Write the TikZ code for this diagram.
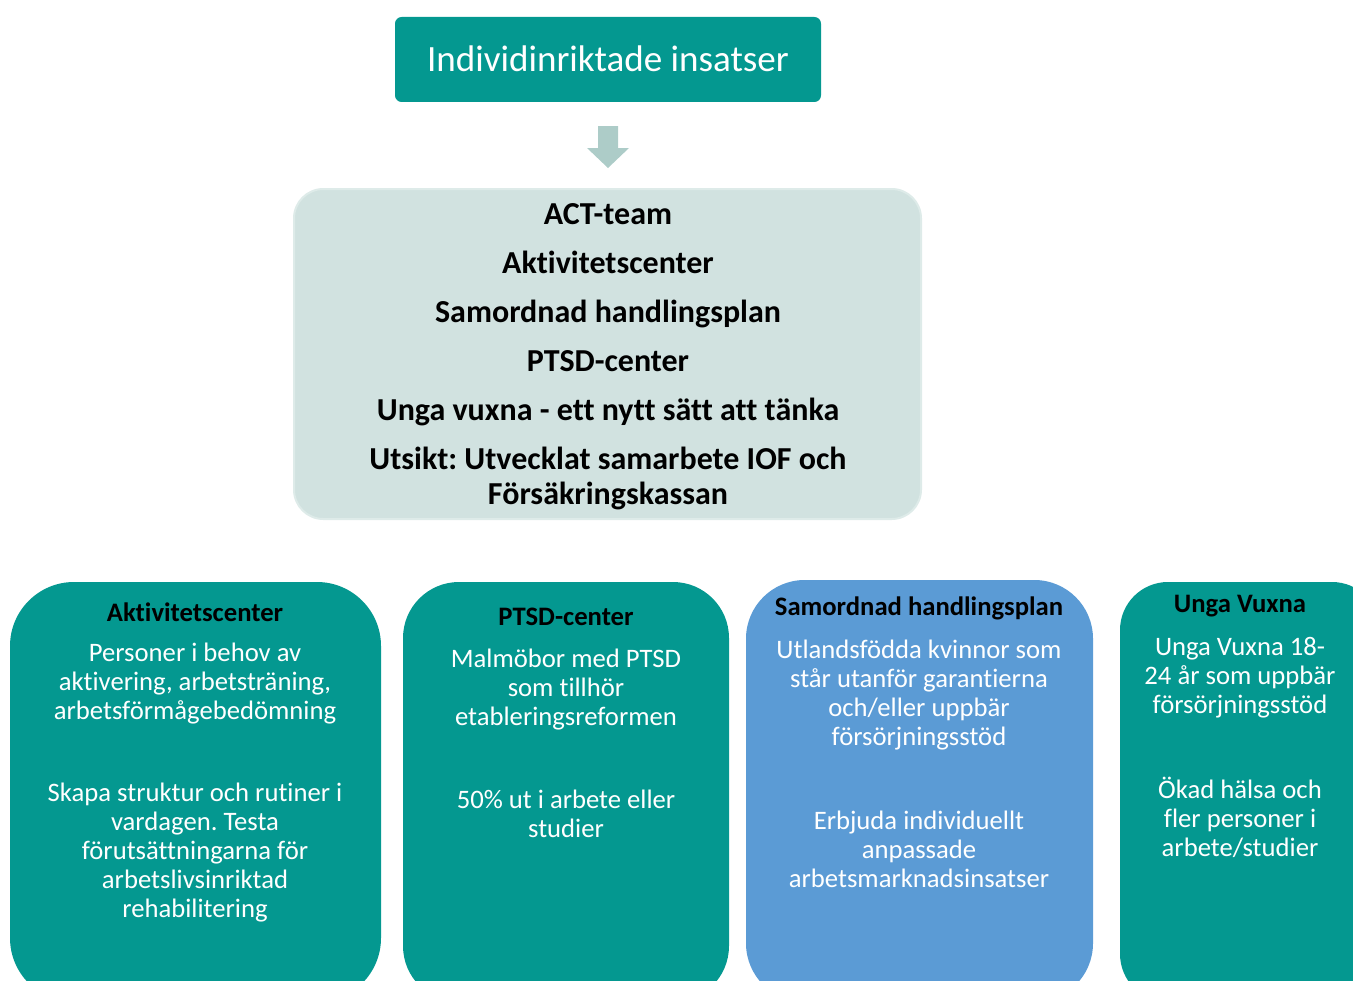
\documentclass[tikz,border=0pt]{standalone}
\usepackage{fontspec}
\setmainfont{Carlito}[Ligatures=NoCommon]
\frenchspacing
\definecolor{tealbox}{RGB}{4,152,144}
\definecolor{bluebox}{RGB}{91,155,213}
\definecolor{lightbox}{RGB}{209,226,224}
\definecolor{lightedge}{RGB}{222,235,233}
\definecolor{arrowc}{RGB}{173,204,200}
\begin{document}
\begin{tikzpicture}[x=0.75pt,y=-0.75pt,
  body/.style={text=white,align=center,font=\fontsize{20}{21.75}\selectfont,inner sep=0pt},
  head/.style={text=black,align=center,font=\fontsize{20}{22}\selectfont\bfseries,inner sep=0pt},
  midtext/.style={text=black,align=center,font=\fontsize{24}{26.25}\selectfont\bfseries,inner sep=0pt}]
\useasboundingbox (0,0) rectangle (1353,981);
\clip (0,0) rectangle (1353,981);
% top box
\fill[tealbox, rounded corners=5pt] (395,17) rectangle (821,102);
\node[text=white,font=\fontsize{27.8}{32}\selectfont,inner sep=0pt] (title) at (608,59) {Individinriktade insatser};
% arrow
\fill[arrowc] (598,126) -- (618,126) -- (618,148) -- (629,148) -- (608,168) -- (587,148) -- (598,148) -- cycle;
% middle box
\filldraw[fill=lightbox, draw=lightedge, line width=1.5pt, rounded corners=22pt] (294,189) rectangle (921,519);
\node[midtext] (mid) at (608,357) {ACT-team\\[10.5pt]
Aktivitetscenter\\[10.5pt]
Samordnad handlingsplan\\[10.5pt]
PTSD-center\\[10.5pt]
Unga vuxna - ett nytt sätt att tänka\\[10.5pt]
Utsikt: Utvecklat samarbete IOF och\\
Försäkringskassan};
% bottom boxes
\fill[tealbox, rounded corners=48pt] (10,582) rectangle (381,1002);
\fill[tealbox, rounded corners=42pt] (403,582) rectangle (729,1002);
\fill[bluebox, rounded corners=44pt] (746,580) rectangle (1093,1002);
\fill[tealbox, rounded corners=36pt] (1120,582) rectangle (1380,1002);
% box 1
\node[head] (h1) at (195,612) {Aktivitetscenter};
\node[body] (b1a) at (195,684) {Personer i behov av\\aktivering, arbetsträning,\\arbetsförmågebedömning};
\node[body] (b1b) at (195,853) {Skapa struktur och rutiner i\\vardagen. Testa\\förutsättningarna för\\arbetslivsinriktad\\rehabilitering};
% box 2
\node[head] (h2) at (566,617) {PTSD-center};
\node[body] (b2a) at (566,690) {Malmöbor med PTSD\\som tillhör\\etableringsreformen};
\node[body] (b2b) at (566,814) {50\% ut i arbete eller\\studier};
% box 3
\node[head] (h3) at (919,608) {Samordnad handlingsplan};
\node[body] (b3a) at (919,695) {Utlandsfödda kvinnor som\\står utanför garantierna\\och/eller uppbär\\försörjningsstöd};
\node[body] (b3b) at (919,849) {Erbjuda individuellt\\anpassade\\arbetsmarknadsinsatser};
% box 4
\node[head] (h4) at (1240,606) {Unga Vuxna};
\node[body] (b4a) at (1240,678) {Unga Vuxna 18-\\24 år som uppbär\\försörjningsstöd};
\node[body] (b4b) at (1240,817) {Ökad hälsa och\\fler personer i\\arbete/studier};
\end{tikzpicture}
\end{document}
